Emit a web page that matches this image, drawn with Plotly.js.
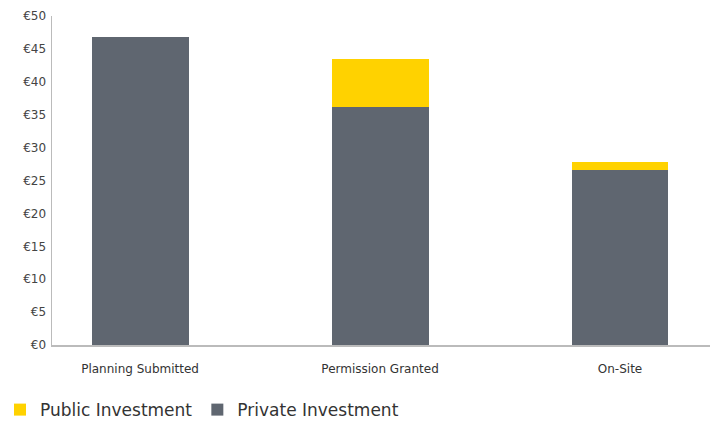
<!DOCTYPE html>
<html>
<head>
<meta charset="utf-8">
<script src="https://cdn.plot.ly/plotly-3.0.1.min.js"></script>
<style>html,body{margin:0;padding:0;background:#fff;}#chart{width:716px;height:421px;}</style>
</head>
<body>
<div id="chart"></div>
<script>
const categories = ["Planning Submitted", "Permission Granted", "On-Site"];
const privateInvestment = [46.8, 36.2, 26.6];
const publicInvestment = [0, 7.3, 1.2];
const tickValues = [0, 5, 10, 15, 20, 25, 30, 35, 40, 45, 50];
const tickLabels = ["€0", "€5", "€10", "€15", "€20", "€25", "€30", "€35", "€40", "€45", "€50"];

const xIdx = categories.map((c, i) => i);

const traces = [
  {
    type: "bar", name: "Private Investment", x: xIdx, y: privateInvestment,
    marker: {color: "#5f6670"}, width: 0.404, hoverinfo: "y"
  },
  {
    type: "bar", name: "Public Investment", x: xIdx, y: publicInvestment,
    marker: {color: "#ffd200"}, width: 0.404, hoverinfo: "y"
  }
];

const layout = {
  width: 716, height: 421,
  margin: {l: 52, r: 6, t: 16, b: 76},
  barmode: "stack",
  paper_bgcolor: "#fff", plot_bgcolor: "#fff",
  font: {family: "'DejaVu Sans', sans-serif", color: "#333", size: 12},
  showlegend: true,
  legend: {
    orientation: "h", traceorder: "reversed",
    xref: "container", yref: "container", x: -0.006, y: 0.026, xanchor: "left", yanchor: "middle",
    font: {size: 17, color: "#333"}
  },
  xaxis: {
    range: [-0.367, 2.375], tickmode: "array", tickvals: xIdx, ticktext: categories,
    showgrid: false, zeroline: false, showline: true, linecolor: "#bbbbbb", linewidth: 1.5,
    ticks: "", ticklabelstandoff: 12, tickfont: {size: 12, color: "#333"}, fixedrange: true
  },
  yaxis: {
    range: [0, 50], tickmode: "array", tickvals: tickValues, ticktext: tickLabels,
    showgrid: false, zeroline: false, showline: true, linecolor: "#bbbbbb", linewidth: 1.5,
    ticks: "", ticklabelstandoff: 2, tickfont: {size: 12, color: "#444"}, fixedrange: true
  }
};

Plotly.newPlot("chart", traces, layout, {displayModeBar: false, staticPlot: true});
</script>
</body>
</html>
